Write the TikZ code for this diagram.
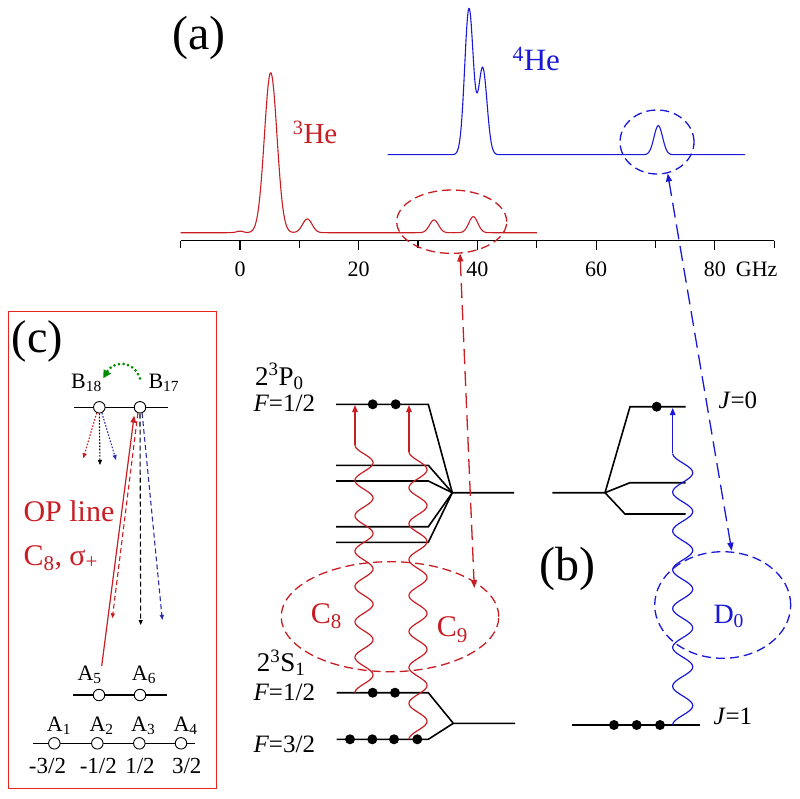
\documentclass[tikz,border=0pt]{standalone}
\usepackage{fontspec}
\setmainfont{Liberation Serif}
\usetikzlibrary{arrows.meta,shapes.geometric}

\definecolor{hered}{RGB}{200,30,35}
\definecolor{heblue}{RGB}{25,25,215}
\definecolor{decayblue}{RGB}{45,45,170}
\definecolor{boxred}{RGB}{232,35,30}
\definecolor{swapgreen}{RGB}{0,140,0}

\tikzset{
  panel/.style={inner sep=0pt,font=\fontsize{48}{52}\selectfont},
  txtbig/.style={inner sep=0pt,anchor=base west,font=\fontsize{30}{34}\selectfont},
  term/.style={inner sep=0pt,anchor=base west,font=\fontsize{27}{30}\selectfont},
  qnum/.style={inner sep=0pt,anchor=base west,font=\fontsize{25}{28}\selectfont},
  txtsmall/.style={inner sep=0pt,anchor=base,font=\fontsize{22}{26}\selectfont},
  lvl/.style={line width=1.6pt},
  atom/.style={circle,fill=black,inner sep=0pt,minimum size=10pt},
  hole/.style={circle,draw=black,fill=white,line width=0.9pt,inner sep=0pt,minimum size=11.5pt},
  tri/.style={-{Triangle[length=7pt,width=5.5pt]}},
  smalltri/.style={-{Triangle[length=5pt,width=4pt]}},
  twotri/.style={{Triangle[length=8pt,width=6pt]}-{Triangle[length=8pt,width=6pt]}},
  ring/.style={ellipse,inner sep=0pt,line width=1.3pt,dash pattern=on 9pt off 5pt},
  longdash/.style={line width=1.3pt,dash pattern=on 15pt off 7pt},
  shortdash/.style={line width=1.1pt,dash pattern=on 5pt off 3pt},
  dotline/.style={line width=1.1pt,dash pattern=on 1.6pt off 1.6pt},
  spec/.style={line width=1.1pt},
  wave/.style={line width=1.2pt},
}

\begin{document}
\begin{tikzpicture}[x=1pt,y=-1pt,
    declare function={gau(\q,\m,\w)=exp(max(-20,-0.5*((\q-\m)/\w)*((\q-\m)/\w)));}]
\useasboundingbox (0,0) rectangle (800,798);

% (a) spectra
\node[panel] (pa) at (199,38.3) {(a)};
\draw[lvl,line width=1.3pt] (180.6,240.7) -- (774.2,240.7);
\foreach \g in {-10,10,30,50,70,90}
  \draw[line width=1.2pt] (240+5.935*\g,240.7) -- ++(0,7);
\foreach \g in {0,20,40,60,80}{
  \draw[line width=1.2pt] (240+5.935*\g,240.7) -- ++(0,9.5);
  \node[txtsmall] (tick\g) at (240+5.935*\g,276.7) {\g};
}
\node[txtsmall,anchor=base west] (ghz) at (735.7,276.7) {GHz};

\draw[hered,spec] plot[domain=180.6:536.8,samples=600]
  (\x,{232.7-160*gau(\x,270.7,6.3)-13.7*gau(\x,307.3,4.8)-12.7*gau(\x,434,4.5)-16*gau(\x,473.3,4.5)-1.5*gau(\x,240,3.5)});
\draw[heblue,spec] plot[domain=387.7:745,samples=600]
  (\x,{154.7-145.9*gau(\x,469,4.3)-86.5*gau(\x,482.7,4.3)-29*gau(\x,658.3,4.3)});
\node[hered,inner sep=0pt,anchor=base west,font=\fontsize{29}{32}\selectfont] (he3) at (292.7,143.3) {\textsuperscript{3}He};
\node[heblue,inner sep=0pt,anchor=base west,font=\fontsize{31}{34}\selectfont] (he4) at (512.3,70.7) {\textsuperscript{4}He};
\node[ring,draw=hered,minimum width=110pt,minimum height=63.4pt] (selC) at (451.7,221.7) {};
\node[ring,draw=heblue,minimum width=74pt,minimum height=64pt] (selD) at (657,142) {};

% (b) levels, 3He
\node[term] (tP) at (255,385) {2\textsuperscript{3}P\textsubscript{0}};
\node[qnum] (fP) at (253.3,411.7) {\textit{F}=1/2};
\draw[lvl] (336,404.3) -- (428.3,404.3) -- (452.3,492.7) -- (514,492.7);
\foreach \y in {465.3,481,526.7,542.3}
  \draw[lvl] (336,\y) -- (428.3,\y) -- (452.3,492.7);
\node[term] (tS) at (256.7,671.7) {2\textsuperscript{3}S\textsubscript{1}};
\node[qnum] (fS1) at (253.3,700.7) {\textit{F}=1/2};
\node[qnum] (fS3) at (253.3,752.7) {\textit{F}=3/2};
\draw[lvl] (336.7,692.7) -- (428.3,692.7) -- (453.3,723.3) -- (515,723.3);
\draw[lvl] (336.7,739.3) -- (428.3,739.3) -- (453.3,723.3);
\node[atom] (p1) at (372.7,404.3) {};
\node[atom] (p2) at (395.7,404.3) {};
\node[atom] (s1) at (372.7,692.7) {};
\node[atom] (s2) at (395,692.7) {};
\foreach \a/\xx in {1/350,2/372.3,3/394,4/417.3}
  \node[atom] (g\a) at (\xx,739.3) {};

% C8 and C9
\coordinate (c8a) at (355,692.7);
\coordinate (c8b) at (355,445);
\coordinate (c8c) at (355,405);
\draw[hered,wave] plot[domain=0:1,samples=300] ({364-9*cos(7*360*\x)},{692.7-247.7*\x});
\draw[hered,wave,tri] (c8b) -- (c8c);
\coordinate (c9a) at (409,739.3);
\coordinate (c9b) at (409,451.7);
\coordinate (c9c) at (409,405);
\draw[hered,wave] plot[domain=0:1,samples=300] ({418-9*cos(8*360*\x)},{739.3-287.6*\x});
\draw[hered,wave,tri] (c9b) -- (c9c);
\node[ring,draw=hered,minimum width=217.6pt,minimum height=110pt] (selCC) at (390,616.7) {};
\node[txtbig,hered] (c8) at (310.7,623.3) {C\textsubscript{8}};
\node[txtbig,hered] (c9) at (436.7,636.7) {C\textsubscript{9}};

% (b) levels, 4He
\node[panel] (pb) at (567.5,569) {(b)};
\draw[lvl] (685.7,406.7) -- (630,406.7) -- (605,492.7) -- (552.3,492.7);
\draw[lvl] (685.7,482.7) -- (630,482.7) -- (605,492.7) -- (625,514) -- (685.7,514);
\draw[lvl] (571.7,725) -- (700,725);
\node[atom] (j0a) at (656.7,406.7) {};
\foreach \a/\xx in {1/614,2/636.7,3/660}
  \node[atom] (h\a) at (\xx,725) {};
\node[qnum] (j0) at (718.3,408.3) {\textit{J}=0};
\node[qnum] (j1) at (713.3,724) {\textit{J}=1};
\coordinate (d0a) at (672.7,725);
\coordinate (d0b) at (672.7,453.3);
\coordinate (d0c) at (672.7,408);
\draw[heblue,wave] plot[domain=0:1,samples=300] ({682.7-10*cos(7*360*\x)},{725-271.7*\x});
\draw[heblue,wave,tri] (d0b) -- (d0c);
\node[ring,draw=heblue,minimum width=136pt,minimum height=106.6pt] (selDD) at (722.7,605) {};
\node[txtbig,heblue,font=\fontsize{28}{32}\selectfont] (d0) at (713.3,623.3) {D\textsubscript{0}};

% links between (a) and (b)
\coordinate (ca) at (460,253.5);
\coordinate (cb) at (474.3,588);
\draw[hered,longdash,twotri] (ca) -- (cb);
\coordinate (da) at (667.7,173.5);
\coordinate (db) at (731.7,550.7);
\draw[heblue,longdash,twotri] (da) -- (db);

% (c) sublevels
\draw[boxred,line width=1.3pt] (8.3,311.7) rectangle (216.7,788.3);
\node[panel,font=\fontsize{46}{50}\selectfont] (pc) at (37.5,341) {(c)};
\draw[lvl,line width=1.2pt] (74,407.3) -- (167.7,407.3);
\node[hole] (b18) at (99.3,407.3) {};
\node[hole] (b17) at (140,407.3) {};
\node[txtsmall,anchor=base west] (lb18) at (71,388.3) {B\textsubscript{18}};
\node[txtsmall,anchor=base west] (lb17) at (148.3,388.3) {B\textsubscript{17}};
\draw[lvl,line width=1.2pt] (73.3,695) -- (167.3,695);
\node[hole] (a5) at (99,695) {};
\node[hole] (a6) at (140,695) {};
\node[txtsmall,anchor=base west] (la5) at (77.3,680.7) {A\textsubscript{5}};
\node[txtsmall,anchor=base west] (la6) at (131.7,680.7) {A\textsubscript{6}};
\draw[lvl,line width=1.2pt] (33.3,743.3) -- (195,743.3);
\foreach \a/\xx/\lx/\mx/\mf in {1/54.3/46.7/47.5/-3\slash 2,2/97.3/89.3/98.3/-1\slash 2,3/139.3/131/140/1\slash 2,4/181/173.3/186.7/3\slash 2}{
  \node[hole] (a\a) at (\xx,743.3) {};
  \node[txtsmall,anchor=base west] (la\a) at (\lx,731.7) {A\textsubscript{\a}};
  \node[txtsmall,font=\fontsize{23}{26}\selectfont] (m\a) at (\mx,773.3) {\mf};
}

% decays and pumping
\coordinate (g17) at (140,378.3);
\coordinate (g18) at (103.3,378.3);
\draw[swapgreen,line width=3pt,line cap=round,dash pattern=on 0pt off 4.6pt,-{Triangle[length=8pt,width=8pt]}]
  (g17) to[out=110,in=60,looseness=1.4] (g18);
\coordinate (e18r) at (83.3,458.3);
\coordinate (e18k) at (100,465);
\coordinate (e18b) at (116,460);
\draw[hered,dotline,smalltri] (b18.-115) -- (e18r);
\draw[black,dotline,smalltri] (b18.south) -- (e18k);
\draw[decayblue,dotline,smalltri] (b18.-65) -- (e18b);
\coordinate (e17r) at (112.3,618.3);
\coordinate (e17k) at (140.7,625);
\coordinate (e17b) at (162.3,620);
\draw[hered,shortdash,smalltri] (b17.-110) -- (e17r);
\draw[black,shortdash,smalltri] (b17.south) -- (e17k);
\draw[decayblue,shortdash,smalltri] (b17.-70) -- (e17b);
\coordinate (opstart) at (101.7,666);
\draw[hered,line width=1.2pt,tri,shorten >=5pt] (opstart) -- (b17.-147);
\node[txtbig,hered] (opl) at (23.3,521.7) {OP line};
\node[txtbig,hered] (opc) at (23.3,565) {C\textsubscript{8}, σ\textsubscript{+}};
\end{tikzpicture}
\end{document}
